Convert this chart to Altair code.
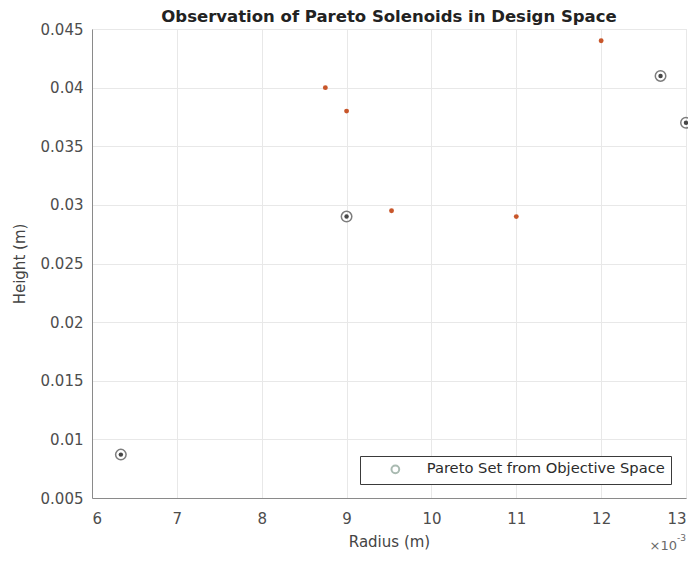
import altair as alt
import pandas as pd

# ---- data ----
design_radius = [8.75, 9.0, 9.53, 11.0, 12.0]          # x 10^-3 m
design_height = [0.040, 0.038, 0.0295, 0.029, 0.044]  # m
pareto_radius = [6.34, 9.0, 12.7, 13.0]               # x 10^-3 m
pareto_height = [0.0087, 0.029, 0.041, 0.037]         # m
x_ticks = [6, 7, 8, 9, 10, 11, 12, 13]
y_ticks = [0.005, 0.01, 0.015, 0.02, 0.025, 0.03, 0.035, 0.04, 0.045]
legend_label = "Pareto Set from Objective Space"

design = pd.DataFrame({"r": design_radius, "h": design_height})
pareto = pd.DataFrame({"r": pareto_radius, "h": pareto_height,
                       "s": [legend_label] * len(pareto_radius)})

FONT = "DejaVu Sans"
axis_style = dict(
    domainColor="#8a8a8a", domainWidth=1,
    gridColor="#e8e8e8", gridWidth=1,
    ticks=False,
    labelFont=FONT, labelFontSize=15, labelColor="#4d4d4d",
    titleFont=FONT, titleFontSize=15, titleFontWeight="normal", titleColor="#444444",
)

x_enc = alt.X("r:Q",
              scale=alt.Scale(domain=[6, 13], nice=False, zero=False),
              axis=alt.Axis(values=x_ticks, title="Radius (m)", format="d",
                            titleX=297, titleY=43, titleBaseline="middle",
                            titleAlign="center", labelPadding=13, **axis_style))
y_enc = alt.Y("h:Q",
              scale=alt.Scale(domain=[0.005, 0.045], nice=False, zero=False),
              axis=alt.Axis(values=y_ticks, title="Height (m)", format=".3~f",
                            titleX=-73, titleY=234.5, titleAngle=-90,
                            titleBaseline="middle", titleAlign="center",
                            labelPadding=9, **axis_style))

dots = alt.Chart(design).mark_point(
    filled=True, size=24, color="#C8562A", opacity=1
).encode(x=x_enc, y=y_enc)

rings = alt.Chart(pareto).mark_point(
    filled=False, size=110, strokeWidth=1.5, color="#7d7d7d", opacity=1
).encode(
    x=x_enc, y=y_enc,
    shape=alt.Shape("s:N", scale=alt.Scale(domain=[legend_label], range=["circle"]),
                    legend=alt.Legend(title=None, orient="none", legendX=268, legendY=427,
                                      fillColor="white", strokeColor="#3a3a3a",
                                      padding=6, symbolOffset=22, labelOffset=24,
                                      symbolSize=60, symbolStrokeWidth=2,
                                      symbolStrokeColor="#a9bab1", symbolFillColor="transparent",
                                      labelFont=FONT, labelFontSize=14.7, labelColor="#2b2b2b",
                                      labelLimit=400))
)

inner = alt.Chart(pareto).mark_point(
    filled=True, size=20, color="#474747", opacity=1
).encode(x=x_enc, y=y_enc)

exp_base = alt.Chart(pd.DataFrame({"t": ["×10"]})).mark_text(
    font=FONT, fontSize=13, color="#6a6a6a", align="right", baseline="middle"
).encode(x=alt.value(585), y=alt.value(517), text="t:N")

exp_sup = alt.Chart(pd.DataFrame({"t": ["-3"]})).mark_text(
    font=FONT, fontSize=9, color="#6a6a6a", align="left", baseline="middle"
).encode(x=alt.value(585), y=alt.value(509), text="t:N")

chart = alt.layer(dots, rings, inner, exp_base, exp_sup).properties(
    width=594, height=469,
    autosize="none",
    padding={"left": 84, "top": 21, "right": 2, "bottom": 56},
    title=alt.TitleParams("Observation of Pareto Solenoids in Design Space",
                          font=FONT, fontSize=16.5, fontWeight="bold", color="#222222",
                          anchor="middle", offset=-3),
).configure_view(
    stroke="#e0e0e0", strokeWidth=1
).configure(background="white")

chart.save("out.html", embed_options={"renderer": "svg", "actions": False})
